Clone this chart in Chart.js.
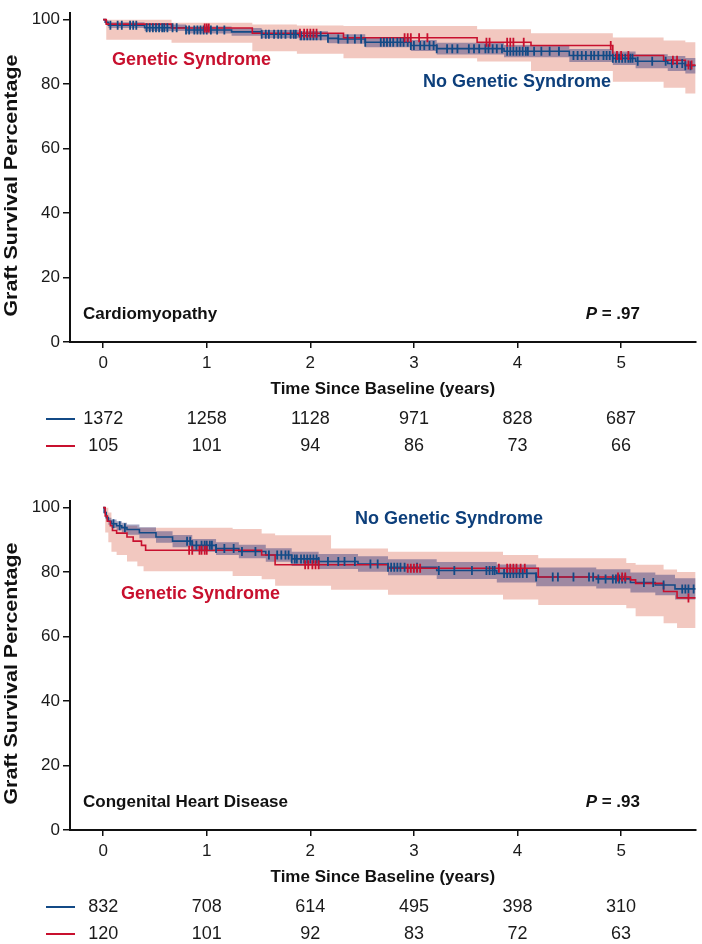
<!DOCTYPE html>
<html>
<head>
<meta charset="utf-8">
<script src="https://cdn.jsdelivr.net/npm/chart.js@4.4.1/dist/chart.umd.min.js"></script>
<style>
  html, body { margin: 0; padding: 0; background: #fff; }
  body { width: 702px; height: 944px; position: relative; overflow: hidden; }
  canvas { position: absolute; left: 0; }
  #c1 { top: 0; }
  #c2 { top: 488px; }
</style>
</head>
<body>
<canvas id="c1" width="702" height="488"></canvas>
<canvas id="c2" width="702" height="456"></canvas>
<script>
// ---------- axis ticks ----------
const ticksX = [0, 1, 2, 3, 4, 5];
const ticksY = [0, 20, 40, 60, 80, 100];
const X_MIN = -0.32, X_MAX = 5.72, Y_MAX = 102;

// ---------- Cardiomyopathy : No genetic syndrome ----------
const cmNoGenT  = [0, 0.02, 0.05, 0.40, 0.80, 1.24, 1.53, 1.89, 2.17, 2.27, 2.53, 2.97, 3.22, 3.87, 4.50, 4.92, 5.14, 5.45, 5.62];
const cmNoGenS  = [100, 99.2, 98.3, 97.5, 96.8, 96.2, 95.5, 95.0, 94.2, 94.0, 93.0, 92.0, 91.0, 90.2, 88.9, 88.0, 87.1, 86.4, 85.7];
const cmNoGenUp = [100, 99.8, 99.2, 98.5, 97.9, 97.4, 96.8, 96.4, 95.7, 95.5, 94.6, 93.7, 92.8, 92.1, 90.9, 90.1, 89.3, 88.7, 88.1];
const cmNoGenLo = [100, 98.6, 97.4, 96.5, 95.7, 95.0, 94.2, 93.6, 92.7, 92.5, 91.4, 90.3, 89.2, 88.3, 86.9, 85.9, 84.9, 84.1, 83.3];
const cmNoGenCens = [0.07, 0.14, 0.18, 0.26, 0.29, 0.32, 0.42, 0.45, 0.48, 0.51, 0.54, 0.57, 0.59, 0.62, 0.67, 0.71, 0.80, 0.83, 0.88, 0.91, 0.94, 0.97, 1.00, 1.04, 1.10, 1.17, 1.53, 1.57, 1.60, 1.65, 1.69, 1.72, 1.76, 1.81, 1.84, 1.86, 1.91, 1.94, 1.97, 2.00, 2.03, 2.06, 2.10, 2.17, 2.27, 2.36, 2.43, 2.49, 2.53, 2.68, 2.71, 2.74, 2.77, 2.80, 2.84, 2.87, 2.90, 2.94, 2.97, 3.00, 3.06, 3.10, 3.15, 3.19, 3.22, 3.32, 3.37, 3.42, 3.53, 3.58, 3.63, 3.69, 3.72, 3.76, 3.80, 3.85, 3.90, 3.93, 3.96, 3.99, 4.02, 4.05, 4.08, 4.10, 4.16, 4.23, 4.31, 4.40, 4.54, 4.58, 4.62, 4.66, 4.71, 4.74, 4.78, 4.83, 4.86, 4.89, 4.92, 4.95, 4.98, 5.01, 5.04, 5.07, 5.09, 5.11, 5.16, 5.30, 5.43, 5.49, 5.54, 5.59, 5.62, 5.67];

// ---------- Cardiomyopathy : Genetic syndrome ----------
const cmGenT = [0, 0.03, 0.66, 1.44, 2.32, 3.61, 4.13, 4.92, 5.41, 5.62];
const cmGenS = [100, 98.6, 97.4, 95.8, 94.4, 93.0, 92.0, 88.9, 87.4, 85.9];
const cmGenBandT  = [0, 0.03, 0.66, 1.44, 1.87, 2.32, 3.61, 4.13, 4.92, 5.41, 5.62];
const cmGenBandUp = [100, 100, 99.0, 98.5, 98.2, 98.0, 97.0, 95.8, 94.5, 93.5, 93.0];
const cmGenBandLo = [100, 93.8, 92.8, 90.2, 89.4, 88.0, 87.0, 84.1, 80.7, 78.9, 77.1];
const cmGenCens = [0.98, 1.00, 1.02, 1.90, 1.94, 1.97, 2.00, 2.03, 2.06, 2.91, 2.94, 2.97, 3.05, 3.13, 3.70, 3.73, 3.90, 3.93, 3.96, 4.06, 4.90, 4.96, 5.00, 5.07, 5.50, 5.54, 5.65, 5.68];

// ---------- Congenital heart disease : No genetic syndrome ----------
const chdNoGenT  = [0, 0.01, 0.03, 0.05, 0.08, 0.13, 0.18, 0.23, 0.35, 0.51, 0.67, 0.86, 1.09, 1.31, 1.57, 1.82, 2.08, 2.46, 2.75, 3.22, 3.80, 4.18, 4.76, 5.09, 5.33, 5.52];
const chdNoGenS  = [100, 98.5, 96.9, 95.8, 95.0, 94.4, 93.8, 93.2, 92.2, 90.9, 89.6, 88.3, 87.3, 86.4, 85.3, 84.1, 83.3, 82.5, 81.5, 80.5, 79.6, 78.5, 77.9, 76.8, 76.0, 74.8];
const chdNoGenUp = [100, 99.0, 97.8, 96.9, 96.3, 95.8, 95.3, 94.8, 93.9, 92.7, 91.5, 90.3, 89.3, 88.5, 87.4, 86.3, 85.6, 84.9, 84.0, 83.1, 82.4, 81.4, 80.9, 79.9, 79.2, 78.1];
const chdNoGenLo = [100, 98.0, 96.0, 94.7, 93.7, 93.0, 92.3, 91.6, 90.5, 89.1, 87.7, 86.3, 85.3, 84.3, 83.2, 81.9, 81.0, 80.1, 79.0, 77.9, 76.8, 75.6, 74.9, 73.7, 72.8, 71.5];
const chdNoGenCens = [0.10, 0.16, 0.21, 0.81, 0.84, 0.86, 0.90, 0.95, 0.98, 1.00, 1.03, 1.05, 1.09, 1.17, 1.26, 1.34, 1.47, 1.60, 1.68, 1.72, 1.76, 1.79, 1.82, 1.85, 1.87, 1.91, 1.94, 1.97, 2.00, 2.03, 2.06, 2.08, 2.17, 2.27, 2.33, 2.43, 2.58, 2.65, 2.75, 2.78, 2.81, 2.84, 2.87, 2.91, 3.03, 3.24, 3.39, 3.56, 3.70, 3.73, 3.76, 3.78, 3.87, 3.90, 3.93, 3.96, 3.99, 4.02, 4.05, 4.09, 4.18, 4.34, 4.39, 4.54, 4.69, 4.73, 4.78, 4.85, 4.92, 4.95, 4.98, 5.01, 5.04, 5.22, 5.31, 5.41, 5.59, 5.62, 5.65, 5.70];

// ---------- Congenital heart disease : Genetic syndrome ----------
const chdGenT = [0, 0.02, 0.04, 0.07, 0.09, 0.13, 0.23, 0.29, 0.37, 0.41, 1.53, 1.66, 2.75, 4.20, 5.09, 5.14, 5.41, 5.54];
const chdGenS = [100, 97.4, 95.8, 94.4, 92.9, 92.1, 90.9, 89.6, 88.3, 86.8, 85.3, 82.3, 81.2, 78.5, 77.6, 76.5, 74.0, 72.0];
const chdGenBandT  = [0, 0.02, 0.05, 0.08, 0.13, 0.23, 0.33, 0.39, 1.25, 1.53, 1.66, 2.20, 2.75, 3.86, 4.20, 5.05, 5.14, 5.41, 5.54];
const chdGenBandUp = [100, 100, 98.5, 95.4, 94.4, 94.4, 93.8, 93.8, 93.4, 92.0, 91.4, 87.3, 86.3, 85.3, 84.3, 82.8, 82.3, 80.8, 80.0];
const chdGenBandLo = [100, 92.3, 89.3, 86.3, 85.3, 83.3, 81.8, 80.3, 78.8, 77.8, 75.8, 74.5, 73.0, 71.5, 69.8, 68.8, 66.3, 64.1, 62.7];
const chdGenCens = [0.83, 0.86, 0.93, 0.95, 0.98, 1.00, 1.95, 1.98, 2.02, 2.05, 2.08, 2.94, 2.97, 3.00, 3.03, 3.06, 3.82, 3.90, 3.93, 3.96, 3.99, 4.03, 4.07, 4.97, 5.01, 5.04, 5.65];

// ---------- numbers at risk ----------
const cmRiskNoGen  = [1372, 1258, 1128, 971, 828, 687];
const cmRiskGen    = [105, 101, 94, 86, 73, 66];
const chdRiskNoGen = [832, 708, 614, 495, 398, 310];
const chdRiskGen   = [120, 101, 92, 83, 72, 63];

// ---------- styling ----------
const RED = '#c8102e';
const BLUE = '#134a86';
const BLUE_TXT = '#0d3f7b';
const PINK = '#f2c8c0';
const PURPLE = 'rgba(68, 70, 130, 0.48)';
const FONT = '"Liberation Sans", Arial, Helvetica, sans-serif';

function pts(ts, vs) {
  const out = ts.map((t, i) => ({ x: t, y: vs[i] }));
  out.push({ x: X_MAX, y: vs[vs.length - 1] });
  return out;
}
function stepAt(ts, vs, t) {
  let v = vs[0];
  for (let i = 0; i < ts.length; i++) { if (ts[i] <= t) v = vs[i]; }
  return v;
}
function censorPts(cens, ts, vs) {
  return cens.map(t => ({ x: t, y: stepAt(ts, vs, t) }));
}

function makePanel(id, h, p) {
  const ctx = document.getElementById(id);
  const lineBase = { stepped: 'before', pointRadius: 0, pointHoverRadius: 0, tension: 0 };
  const bandEdge = Object.assign({}, lineBase, { borderWidth: 0, borderColor: 'rgba(0,0,0,0)' });
  const datasets = [
    Object.assign({}, bandEdge, { data: pts(p.gBandT, p.gBandUp), fill: '+1', backgroundColor: PINK, order: 10 }),
    Object.assign({}, bandEdge, { data: pts(p.gBandT, p.gBandLo), fill: false, order: 10 }),
    Object.assign({}, bandEdge, { data: pts(p.nT, p.nUp), fill: '+1', backgroundColor: PURPLE, order: 9 }),
    Object.assign({}, bandEdge, { data: pts(p.nT, p.nLo), fill: false, order: 9 }),
    Object.assign({}, lineBase, { data: pts(p.nT, p.nS), borderColor: BLUE, borderWidth: 1.6, fill: false, order: 5 }),
    Object.assign({}, lineBase, { data: pts(p.gT, p.gS), borderColor: RED, borderWidth: 1.6, fill: false, order: 4 }),
    { data: censorPts(p.nCens, p.nT, p.nS), showLine: false, pointStyle: 'line', pointRotation: 90,
      pointRadius: 4.5, pointBorderWidth: 1.8, pointBorderColor: BLUE, borderColor: BLUE, order: 3 },
    { data: censorPts(p.gCens, p.gT, p.gS), showLine: false, pointStyle: 'line', pointRotation: 90,
      pointRadius: 4.5, pointBorderWidth: 1.8, pointBorderColor: RED, borderColor: RED, order: 2 }
  ];

  const textPlugin = {
    id: 'texts',
    afterDraw(chart) {
      const c = chart.ctx;
      const xs = chart.scales.x;
      const area = chart.chartArea;
      c.save();
      c.textBaseline = 'middle';
      // curve labels
      c.font = 'bold 18px ' + FONT;
      c.textAlign = 'left';
      c.fillStyle = RED;
      c.fillText('Genetic Syndrome', p.gLabel[0], p.gLabel[1]);
      c.fillStyle = BLUE_TXT;
      c.fillText('No Genetic Syndrome', p.nLabel[0], p.nLabel[1]);
      // panel name
      c.fillStyle = '#111';
      c.font = 'bold 17px ' + FONT;
      c.fillText(p.name, 83, 314);
      // P value
      const rest = ' = ' + p.pval;
      c.font = 'bold 17px ' + FONT;
      const wRest = c.measureText(rest).width;
      c.font = 'italic bold 17px ' + FONT;
      const wP = c.measureText('P').width;
      const right = 640;
      c.fillText('P', right - wRest - wP, 314);
      c.font = 'bold 17px ' + FONT;
      c.fillText(rest, right - wRest, 314);
      // x axis title
      c.textAlign = 'center';
      c.font = 'bold 17px ' + FONT;
      c.fillText('Time Since Baseline (years)', (area.left + area.right) / 2, 389);
      // y axis title (stretched along its length as in the source figure)
      c.save();
      c.font = 'bold 18px ' + FONT;
      const yt = 'Graft Survival Percentage';
      const wy = c.measureText(yt).width;
      c.translate(12, (area.top + area.bottom) / 2 + 8);
      c.rotate(-Math.PI / 2);
      c.scale(262 / wy, 1);
      c.textAlign = 'center';
      c.fillText(yt, 0, 0);
      c.restore();
      // risk table
      const rows = [[p.riskN, BLUE, 419], [p.riskG, RED, 446]];
      rows.forEach(([vals, col, y]) => {
        c.strokeStyle = col;
        c.lineWidth = 2;
        c.beginPath();
        c.moveTo(46, y);
        c.lineTo(75, y);
        c.stroke();
        c.fillStyle = '#1a1a1a';
        c.font = '18px ' + FONT;
        c.textAlign = 'center';
        vals.forEach((v, i) => {
          c.fillText(String(v), xs.getPixelForValue(ticksX[i]), y);
        });
      });
      c.restore();
    }
  };

  return new Chart(ctx, {
    type: 'line',
    data: { datasets },
    options: {
      responsive: false,
      animation: false,
      devicePixelRatio: 1,
      layout: { padding: { top: 3, right: 1, left: 0, bottom: 0 } },
      plugins: { legend: { display: false }, tooltip: { enabled: false } },
      events: [],
      scales: {
        x: {
          type: 'linear', min: X_MIN, max: X_MAX,
          afterBuildTicks: s => { s.ticks = ticksX.map(v => ({ value: v })); },
          afterFit: s => { s.height = h - 342; },
          grid: { drawOnChartArea: false, drawTicks: true, tickLength: 6, color: '#111', lineWidth: 1.5 },
          border: { display: true, color: '#111', width: 2 },
          ticks: { color: '#1a1a1a', font: { family: FONT, size: 17 }, padding: 5, maxRotation: 0 }
        },
        y: {
          type: 'linear', min: 0, max: Y_MAX,
          afterBuildTicks: s => { s.ticks = ticksY.map(v => ({ value: v })); },
          afterFit: s => { s.width = 70; },
          grid: { drawOnChartArea: false, drawTicks: true, tickLength: 7, color: '#111', lineWidth: 1.5 },
          border: { display: true, color: '#111', width: 2 },
          ticks: { color: '#1a1a1a', font: { family: FONT, size: 17 }, padding: 3 }
        }
      }
    },
    plugins: [textPlugin]
  });
}

makePanel('c1', 488, {
  nT: cmNoGenT, nS: cmNoGenS, nUp: cmNoGenUp, nLo: cmNoGenLo, nCens: cmNoGenCens,
  gT: cmGenT, gS: cmGenS, gBandT: cmGenBandT, gBandUp: cmGenBandUp, gBandLo: cmGenBandLo, gCens: cmGenCens,
  riskN: cmRiskNoGen, riskG: cmRiskGen,
  name: 'Cardiomyopathy', pval: '.97',
  gLabel: [112, 60], nLabel: [423, 82]
});
makePanel('c2', 456, {
  nT: chdNoGenT, nS: chdNoGenS, nUp: chdNoGenUp, nLo: chdNoGenLo, nCens: chdNoGenCens,
  gT: chdGenT, gS: chdGenS, gBandT: chdGenBandT, gBandUp: chdGenBandUp, gBandLo: chdGenBandLo, gCens: chdGenCens,
  riskN: chdRiskNoGen, riskG: chdRiskGen,
  name: 'Congenital Heart Disease', pval: '.93',
  gLabel: [121, 106], nLabel: [355, 31]
});
</script>
</body>
</html>
